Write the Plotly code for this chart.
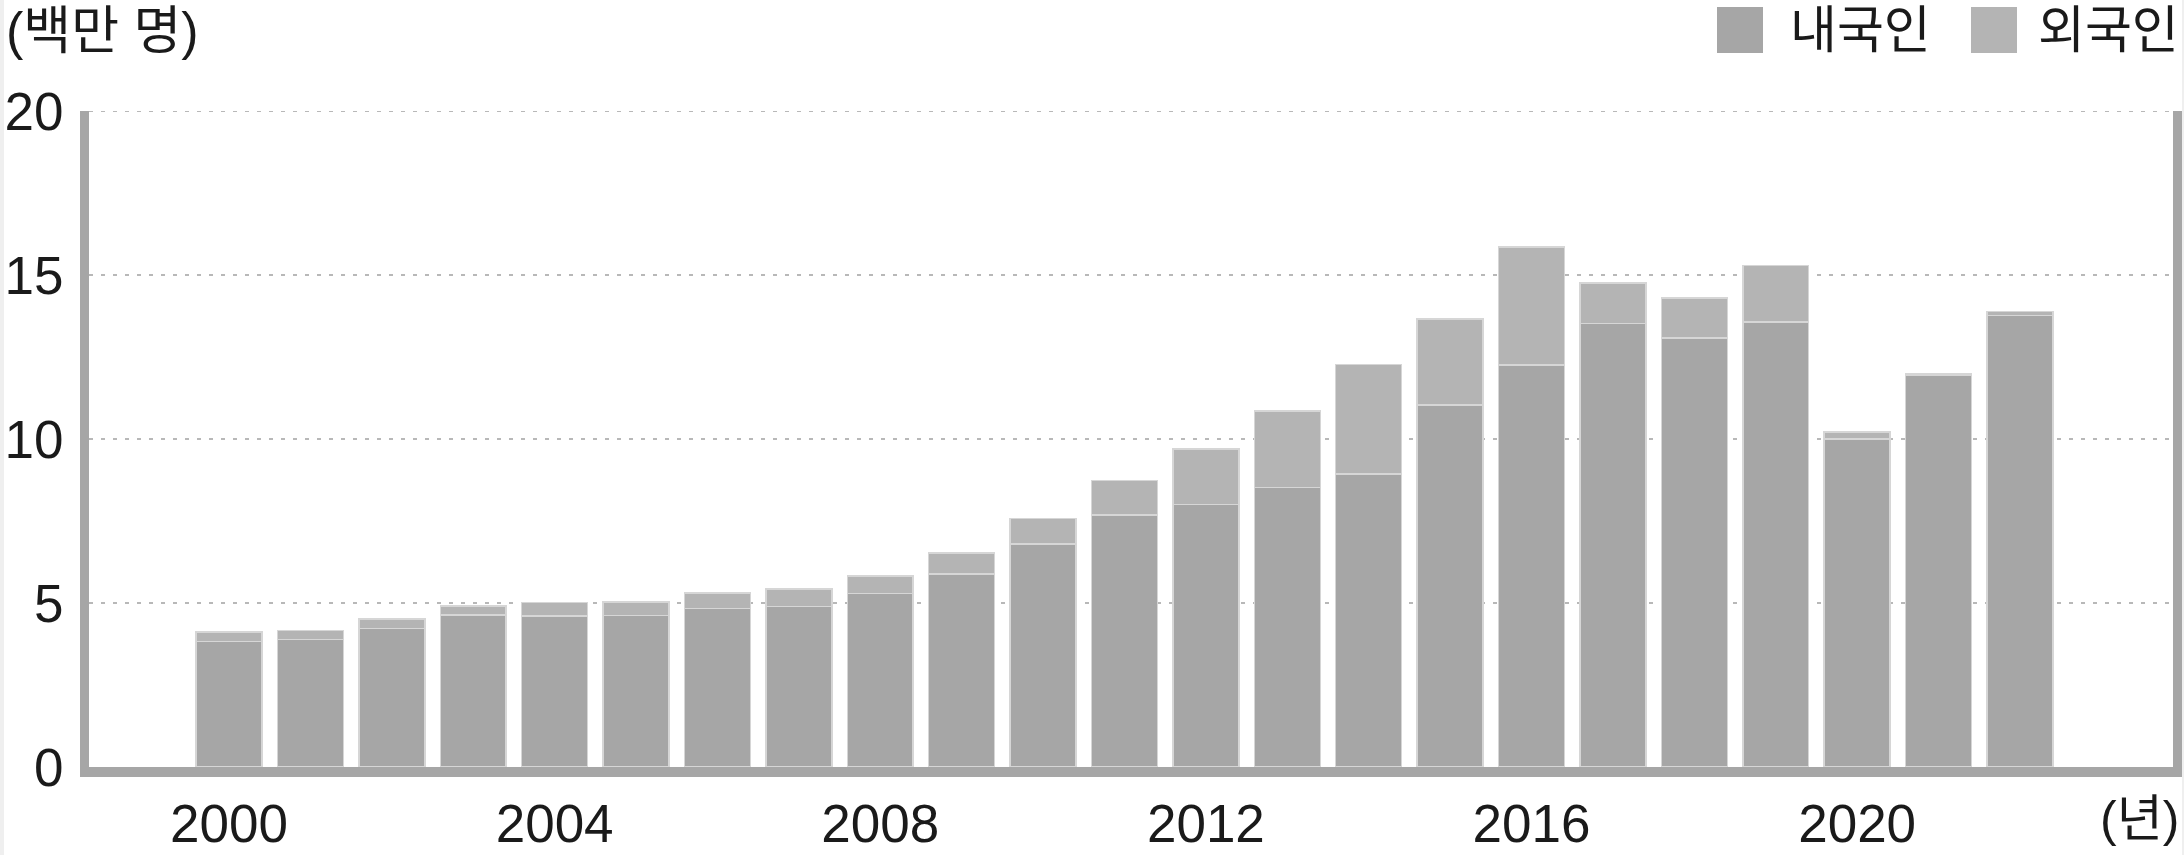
import plotly.graph_objects as go

years = list(range(2000, 2023))
domestic = [3.82, 3.88, 4.22, 4.64, 4.60, 4.62, 4.83, 4.90, 5.29, 5.89, 6.80, 7.69,
            8.01, 8.52, 8.94, 11.04, 12.25, 13.52, 13.08, 13.56, 10.00, 11.95, 13.76]
foreign = [0.29, 0.28, 0.29, 0.27, 0.42, 0.41, 0.48, 0.53, 0.53, 0.63, 0.78, 1.05,
           1.68, 2.33, 3.33, 2.62, 3.60, 1.23, 1.22, 1.73, 0.21, 0.05, 0.12]
series_names = ["내국인", "외국인"]
x_tick_vals = [2000, 2004, 2008, 2012, 2016, 2020]
y_tick_vals = [0, 5, 10, 15, 20]

KFONT = "Liberation Sans, Noto Sans CJK KR"
NFONT = "Liberation Sans"
C_DOM = "#a6a6a6"
C_FOR = "#b4b4b4"
EDGE = "#d6d6d6"
GRID = "#b8b8b8"
TXT = "#1a1a1a"

W, H = 2184, 855
ML, MR, MT, MB = 89, 11, 111, 88
PW = W - ML - MR
PH = H - MT - MB

fig = go.Figure()
fig.add_trace(go.Bar(x=years, y=domestic, name=series_names[0], width=0.81,
                     marker=dict(color=C_DOM, line=dict(color=EDGE, width=1.5)),
                     showlegend=False))
fig.add_trace(go.Bar(x=years, y=foreign, name=series_names[1], width=0.81,
                     marker=dict(color=C_FOR, line=dict(color=EDGE, width=1.5)),
                     showlegend=False))

def px_x(p):
    return (p - ML) / PW

def px_y(p):
    return (H - MB - p) / PH

shapes = []
annotations = []
# light strips at the page edges
shapes.append(dict(type="rect", xref="paper", yref="paper", x0=px_x(0), x1=px_x(4),
                   y0=px_y(H), y1=px_y(0), fillcolor="#efefef", line=dict(width=0),
                   layer="below"))
shapes.append(dict(type="rect", xref="paper", yref="paper", x0=px_x(2182), x1=px_x(2184),
                   y0=px_y(H), y1=px_y(0), fillcolor="#efefef", line=dict(width=0),
                   layer="below"))
# top gridline (plotly hides the grid line at the plot edge)
shapes.append(dict(type="line", xref="paper", yref="y", x0=0, x1=1,
                   y0=y_tick_vals[-1], y1=y_tick_vals[-1],
                   line=dict(color=GRID, width=2, dash="4px,8px"), layer="below"))
# legend (manual, large squares)
leg = [(1717, 1788, C_DOM, series_names[0]), (1971, 2036, C_FOR, series_names[1])]
for sx, tx, col, name in leg:
    shapes.append(dict(type="rect", xref="paper", yref="paper",
                       x0=px_x(sx), x1=px_x(sx + 46), y0=px_y(53), y1=px_y(7),
                       fillcolor=col, line=dict(width=0)))
    annotations.append(dict(text=name, xref="paper", yref="paper", x=px_x(tx), y=px_y(31),
                            xanchor="left", yanchor="middle", showarrow=False,
                            font=dict(family=KFONT, size=51, color=TXT)))
annotations.append(dict(text="(백만 명)", xref="paper", yref="paper", x=px_x(4), y=px_y(31),
                        xanchor="left", yanchor="middle", showarrow=False,
                        font=dict(family=KFONT, size=52, color=TXT)))
annotations.append(dict(text="(년)", xref="paper", yref="paper", x=px_x(2181), y=px_y(819),
                        xanchor="right", yanchor="middle", showarrow=False,
                        font=dict(family=KFONT, size=50, color=TXT)))

fig.update_layout(
    width=W, height=H,
    margin=dict(l=ML, r=MR, t=MT, b=MB, pad=0),
    barmode="stack",
    paper_bgcolor="white", plot_bgcolor="white",
    font=dict(family=KFONT, size=48, color=TXT),
    shapes=shapes, annotations=annotations,
    bargap=0.19,
)
fig.update_xaxes(range=[1998.28, 2023.88], tickvals=x_tick_vals, ticks="",
                 showgrid=False, zeroline=False, showline=True, linewidth=10,
                 linecolor=C_DOM, tickfont=dict(family=NFONT, size=53, color=TXT),
                 ticklabelstandoff=1, automargin=False)
fig.update_yaxes(range=[0, 20], tickvals=y_tick_vals, ticks="",
                 showgrid=True, gridcolor=GRID, griddash="4px,8px", gridwidth=2,
                 zeroline=False, showline=True, linewidth=9, linecolor=C_DOM, mirror=True,
                 tickfont=dict(family=NFONT, size=53, color=TXT),
                 ticklabelstandoff=6, automargin=False)

fig.write_html(
    "out.html",
    config={"displayModeBar": False},
    post_script="document.body.style.margin='0';document.body.style.overflow='hidden';",
)
